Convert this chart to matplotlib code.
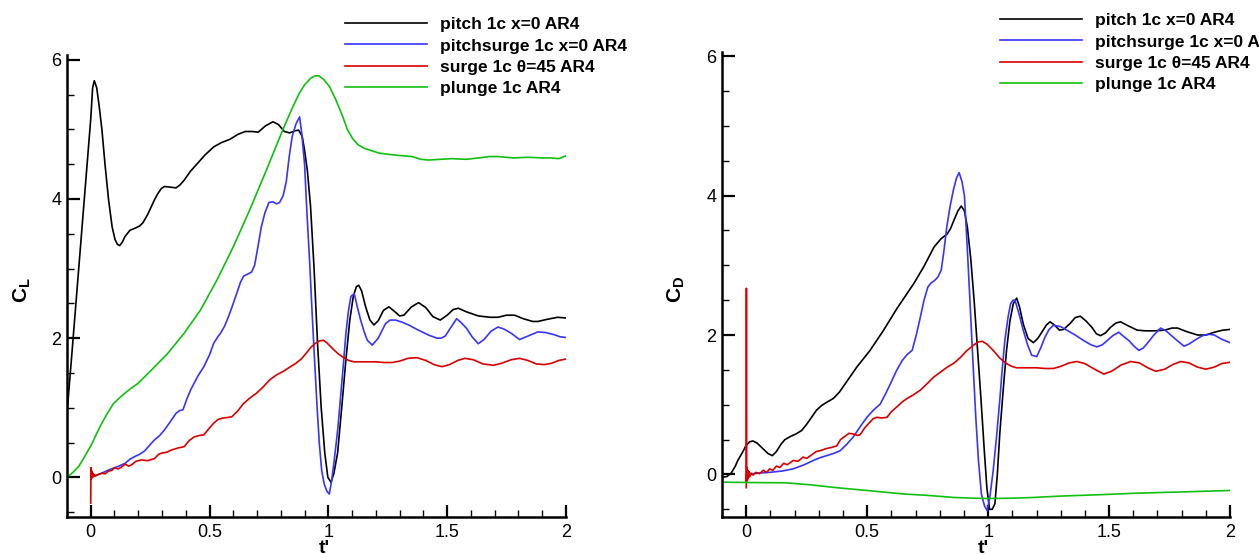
import matplotlib
matplotlib.use('Agg')
import matplotlib.pyplot as plt
from matplotlib.ticker import MultipleLocator

plt.rcParams['font.family'] = ['Liberation Sans', 'DejaVu Sans']
plt.rcParams['mathtext.fontset'] = 'custom'
plt.rcParams['mathtext.rm'] = 'Liberation Sans'
plt.rcParams['mathtext.bf'] = 'Liberation Sans:bold'

labels = ['pitch 1c x=0 AR4', 'pitchsurge 1c x=0 AR4', 'surge 1c \u03b8=45 AR4', 'plunge 1c AR4']
colors = ['#000000', '#3535ff', '#d80000', '#10c010']

xtick_vals = [0, 0.5, 1, 1.5, 2]
xtick_labels = ['0', '0.5', '1', '1.5', '2']
ytick_vals = [0, 2, 4, 6]

# ---- C_L panel ----
cl_pitch_t = [-0.10, -0.08, -0.06, -0.04, -0.02, 0.0, 0.008, 0.015, 0.025, 0.035, 0.047, 0.06, 0.075, 0.09,
              0.102, 0.112, 0.122, 0.133, 0.144, 0.165, 0.186, 0.205, 0.22, 0.24, 0.255, 0.27, 0.283, 0.297,
              0.31, 0.335, 0.359, 0.375, 0.393, 0.42, 0.449, 0.48, 0.518, 0.55, 0.587, 0.62, 0.65, 0.68, 0.705,
              0.735, 0.767, 0.79, 0.815, 0.837, 0.86, 0.875, 0.89, 0.90, 0.912, 0.925, 0.94, 0.955, 0.97,
              0.985, 0.998, 1.011, 1.023, 1.039, 1.055, 1.074, 1.09, 1.105, 1.118, 1.128, 1.14, 1.157, 1.175,
              1.192, 1.21, 1.232, 1.255, 1.28, 1.30, 1.318, 1.35, 1.38, 1.41, 1.44, 1.471, 1.50, 1.525, 1.547,
              1.58, 1.631, 1.68, 1.714, 1.75, 1.784, 1.82, 1.86, 1.882, 1.92, 1.965, 2.0]
cl_pitch = [0.92, 1.75, 2.6, 3.45, 4.3, 5.15, 5.6, 5.70, 5.6, 5.35, 5.0, 4.5, 3.99, 3.6,
            3.42, 3.35, 3.33, 3.38, 3.46, 3.55, 3.58, 3.61, 3.66, 3.78, 3.89, 4.0, 4.08, 4.15,
            4.18, 4.17, 4.16, 4.2, 4.27, 4.4, 4.51, 4.63, 4.75, 4.81, 4.86, 4.93, 4.97, 4.97, 4.96,
            5.05, 5.11, 5.07, 4.97, 4.95, 4.98, 4.99, 4.9, 4.7, 4.4, 3.9, 3.0, 1.9, 1.0,
            0.35, 0.0, -0.07, 0.05, 0.35, 0.95, 1.69, 2.25, 2.6, 2.74, 2.76, 2.68, 2.45, 2.26,
            2.19, 2.25, 2.4, 2.45, 2.38, 2.32, 2.33, 2.45, 2.51, 2.44, 2.31, 2.26, 2.33, 2.41, 2.43,
            2.38, 2.32, 2.30, 2.30, 2.33, 2.33, 2.28, 2.24, 2.24, 2.27, 2.30, 2.29]

cl_psurge_t = [0.0, 0.04, 0.075, 0.11, 0.144, 0.165, 0.186, 0.205, 0.227, 0.25, 0.269, 0.29, 0.31, 0.335,
               0.359, 0.375, 0.388, 0.405, 0.421, 0.45, 0.476, 0.50, 0.518, 0.535, 0.546, 0.563, 0.58, 0.60,
               0.615, 0.63, 0.643, 0.66, 0.677, 0.69, 0.703, 0.718, 0.733, 0.75, 0.767, 0.782, 0.795, 0.81,
               0.823, 0.835, 0.848, 0.864, 0.879, 0.888, 0.90, 0.91, 0.921, 0.932, 0.942, 0.952, 0.962,
               0.972, 0.983, 0.994, 1.004, 1.014, 1.025, 1.04, 1.053, 1.064, 1.074, 1.085, 1.095, 1.109,
               1.122, 1.136, 1.15, 1.164, 1.185, 1.21, 1.241, 1.26, 1.283, 1.31, 1.338, 1.365, 1.394, 1.425,
               1.457, 1.475, 1.492, 1.515, 1.54, 1.56, 1.582, 1.605, 1.631, 1.655, 1.685, 1.714, 1.74, 1.77,
               1.805, 1.84, 1.882, 1.915, 1.951, 1.975, 2.0]
cl_psurge = [0.0, 0.05, 0.105, 0.15, 0.20, 0.26, 0.30, 0.33, 0.38, 0.47, 0.54, 0.6, 0.68, 0.8,
             0.92, 0.96, 0.97, 1.13, 1.26, 1.45, 1.59, 1.76, 1.93, 2.02, 2.07, 2.17, 2.31, 2.5,
             2.65, 2.8, 2.89, 2.92, 2.95, 3.05, 3.3, 3.6, 3.80, 3.95, 3.96, 3.93, 3.95, 4.05,
             4.25, 4.6, 4.9, 5.08, 5.18, 4.95, 4.5, 3.8, 3.12, 2.35, 1.69, 1.05, 0.49,
             0.1, -0.1, -0.2, -0.24, -0.05, 0.25, 0.7, 1.21, 1.65, 2.07, 2.4, 2.60, 2.64,
             2.45, 2.26, 2.1, 1.97, 1.90, 2.0, 2.21, 2.26, 2.26, 2.23, 2.19, 2.14, 2.09, 2.04,
             2.00, 2.0, 2.03, 2.15, 2.28, 2.22, 2.14, 2.02, 1.92, 1.98, 2.1, 2.16, 2.13, 2.07,
             1.98, 2.03, 2.09, 2.08, 2.05, 2.02, 2.01]

cl_surge_t = [0.0, 0.001, 0.003, 0.005, 0.007, 0.009, 0.012, 0.016, 0.02, 0.03, 0.047, 0.06, 0.075, 0.089,
              0.10, 0.115, 0.13, 0.145, 0.16, 0.172, 0.19, 0.213, 0.24, 0.269, 0.285, 0.30, 0.32, 0.338,
              0.365, 0.393, 0.415, 0.435, 0.455, 0.476, 0.50, 0.518, 0.535, 0.553, 0.575, 0.594, 0.62,
              0.643, 0.67, 0.698, 0.726, 0.753, 0.781, 0.809, 0.836, 0.864, 0.886, 0.906, 0.927, 0.947,
              0.962, 0.979, 0.995, 1.018, 1.04, 1.06, 1.085, 1.109, 1.15, 1.199, 1.235, 1.269, 1.30, 1.335,
              1.373, 1.41, 1.445, 1.478, 1.51, 1.545, 1.575, 1.61, 1.65, 1.694, 1.73, 1.77, 1.805, 1.84,
              1.875, 1.909, 1.94, 1.97, 2.0]
cl_surge = [-0.37, 0.14, -0.02, 0.09, 0.0, 0.06, 0.01, 0.04, 0.02, 0.04, 0.06, 0.05, 0.09, 0.1,
            0.14, 0.12, 0.15, 0.19, 0.16, 0.18, 0.23, 0.25, 0.24, 0.27, 0.33, 0.35, 0.36, 0.39,
            0.42, 0.44, 0.53, 0.58, 0.6, 0.61, 0.71, 0.78, 0.83, 0.85, 0.86, 0.87, 0.96,
            1.06, 1.14, 1.21, 1.3, 1.40, 1.47, 1.52, 1.58, 1.64, 1.7, 1.78, 1.87, 1.93,
            1.96, 1.97, 1.93, 1.85, 1.78, 1.73, 1.68, 1.66, 1.66, 1.66, 1.65, 1.65, 1.67, 1.71,
            1.72, 1.68, 1.62, 1.59, 1.62, 1.68, 1.71, 1.69, 1.63, 1.61, 1.64, 1.69, 1.71, 1.68,
            1.63, 1.62, 1.64, 1.68, 1.70]

cl_plunge_t = [-0.10, -0.075, -0.05, -0.025, 0.006, 0.025, 0.047, 0.07, 0.096, 0.12, 0.144, 0.17, 0.199,
               0.255, 0.324, 0.393, 0.463, 0.532, 0.601, 0.67, 0.74, 0.809, 0.85, 0.878, 0.90, 0.927,
               0.945, 0.96, 0.98, 1.004, 1.03, 1.06, 1.08, 1.102, 1.125, 1.15, 1.213, 1.283, 1.352, 1.39,
               1.422, 1.47, 1.519, 1.58, 1.631, 1.68, 1.714, 1.78, 1.84, 1.90, 1.937, 1.97, 2.0]
cl_plunge = [0.0, 0.07, 0.16, 0.3, 0.49, 0.63, 0.78, 0.92, 1.06, 1.14, 1.21, 1.28, 1.35,
             1.54, 1.78, 2.07, 2.41, 2.84, 3.32, 3.85, 4.42, 5.0, 5.32, 5.52, 5.64, 5.74,
             5.77, 5.77, 5.72, 5.62, 5.44, 5.19, 5.0, 4.87, 4.78, 4.73, 4.66, 4.63, 4.61, 4.57,
             4.56, 4.57, 4.58, 4.57, 4.59, 4.61, 4.61, 4.59, 4.60, 4.59, 4.59, 4.58, 4.62]

# ---- C_D panel ----
cd_pitch_t = [-0.104, -0.08, -0.062, -0.045, -0.035, -0.015, 0.0, 0.015, 0.028, 0.045, 0.069, 0.09, 0.108,
              0.125, 0.145, 0.16, 0.18, 0.205, 0.229, 0.25, 0.27, 0.29, 0.312, 0.335, 0.36, 0.385, 0.409,
              0.457, 0.512, 0.568, 0.623, 0.693, 0.734, 0.776, 0.805, 0.831, 0.845, 0.859, 0.875, 0.889,
              0.902, 0.914, 0.928, 0.942, 0.956, 0.97, 0.984, 0.995, 1.006, 1.017, 1.028, 1.038, 1.048,
              1.062, 1.076, 1.09, 1.104, 1.118, 1.13, 1.145, 1.165, 1.187, 1.205, 1.222, 1.24, 1.256,
              1.275, 1.295, 1.312, 1.34, 1.36, 1.381, 1.405, 1.429, 1.447, 1.464, 1.485, 1.506, 1.527,
              1.547, 1.58, 1.616, 1.65, 1.686, 1.73, 1.76, 1.783, 1.82, 1.866, 1.90, 1.935, 1.97, 2.0]
cd_pitch = [-0.04, -0.03, 0.02, 0.12, 0.2, 0.32, 0.42, 0.47, 0.48, 0.45, 0.37, 0.3, 0.27,
            0.33, 0.44, 0.5, 0.54, 0.58, 0.63, 0.72, 0.82, 0.92, 0.99, 1.04, 1.09, 1.18, 1.30,
            1.54, 1.78, 2.07, 2.38, 2.74, 2.98, 3.26, 3.38, 3.45, 3.53, 3.65, 3.78, 3.85,
            3.78, 3.55, 3.1, 2.5, 1.8, 1.1, 0.35, -0.2, -0.5, -0.5, -0.42, 0.0, 0.58,
            1.2, 1.78, 2.2, 2.45, 2.53, 2.4, 2.16, 1.95, 1.89, 1.95, 2.04, 2.14, 2.19,
            2.14, 2.07, 2.08, 2.17, 2.25, 2.27, 2.2, 2.11, 2.02, 1.99, 2.03, 2.11, 2.17,
            2.19, 2.13, 2.07, 2.06, 2.06, 2.07, 2.1, 2.10, 2.05, 2.00, 2.0, 2.04, 2.07, 2.08]

cd_psurge_t = [0.0, 0.05, 0.097, 0.15, 0.194, 0.24, 0.277, 0.305, 0.332, 0.36, 0.388, 0.415, 0.443, 0.47,
               0.499, 0.525, 0.554, 0.575, 0.596, 0.62, 0.644, 0.665, 0.686, 0.703, 0.72, 0.735, 0.751,
               0.765, 0.778, 0.792, 0.806, 0.817, 0.829, 0.843, 0.857, 0.869, 0.88, 0.892, 0.902, 0.913,
               0.924, 0.936, 0.949, 0.96, 0.972, 0.985, 0.996, 1.008, 1.021, 1.035, 1.048, 1.058, 1.069,
               1.082, 1.093, 1.103, 1.111, 1.128, 1.145, 1.163, 1.18, 1.201, 1.218, 1.235, 1.252, 1.27,
               1.30, 1.325, 1.36, 1.395, 1.425, 1.45, 1.472, 1.492, 1.515, 1.54, 1.56, 1.582, 1.603, 1.623,
               1.64, 1.658, 1.685, 1.713, 1.735, 1.755, 1.785, 1.81, 1.83, 1.852, 1.875, 1.893, 1.915,
               1.935, 1.965, 2.0]
cd_psurge = [0.0, 0.02, 0.03, 0.05, 0.08, 0.14, 0.20, 0.24, 0.27, 0.3, 0.34, 0.43, 0.54, 0.68,
             0.82, 0.92, 1.01, 1.15, 1.30, 1.48, 1.63, 1.72, 1.78, 2.0, 2.26, 2.5, 2.69,
             2.75, 2.78, 2.83, 2.93, 3.2, 3.55, 3.85, 4.09, 4.25, 4.33, 4.2, 4.0, 3.3,
             2.55, 1.7, 0.82, 0.2, -0.28, -0.45, -0.52, -0.3, 0.06, 0.55, 1.06, 1.5, 1.92,
             2.25, 2.45, 2.5, 2.5, 2.3, 2.07, 1.86, 1.71, 1.69, 1.82, 1.97, 2.08, 2.14,
             2.12, 2.07, 2.0, 1.92, 1.86, 1.83, 1.86, 1.92, 1.99, 2.04, 1.98, 1.92, 1.84, 1.78,
             1.81, 1.88, 2.0, 2.10, 2.06, 2.00, 1.91, 1.84, 1.87, 1.92, 1.97, 2.00, 2.01,
             2.00, 1.94, 1.89]

cd_surge_t = [0.0, 0.0008, 0.0016, 0.003, 0.005, 0.007, 0.009, 0.012, 0.015, 0.02, 0.028, 0.04, 0.055,
              0.07, 0.085, 0.097, 0.11, 0.125, 0.139, 0.155, 0.17, 0.194, 0.215, 0.235, 0.249, 0.27, 0.29,
              0.305, 0.33, 0.355, 0.374, 0.39, 0.409, 0.425, 0.443, 0.46, 0.471, 0.49, 0.506, 0.525, 0.54,
              0.56, 0.582, 0.60, 0.623, 0.645, 0.665, 0.69, 0.72, 0.75, 0.776, 0.80, 0.831, 0.86, 0.886,
              0.91, 0.938, 0.958, 0.976, 0.995, 1.021, 1.048, 1.076, 1.098, 1.118, 1.16, 1.201, 1.235,
              1.27, 1.30, 1.335, 1.367, 1.40, 1.44, 1.478, 1.51, 1.55, 1.589, 1.625, 1.66, 1.693, 1.73,
              1.765, 1.796, 1.83, 1.865, 1.90, 1.935, 1.965, 2.0]
cd_surge = [-0.19, 2.67, -0.1, 0.1, -0.08, 0.06, -0.05, 0.04, -0.03, 0.02, -0.01, 0.03, 0.01,
            0.06, 0.03, 0.08, 0.06, 0.12, 0.1, 0.16, 0.14, 0.2, 0.19, 0.25, 0.23, 0.28, 0.33,
            0.34, 0.37, 0.39, 0.41, 0.5, 0.55, 0.59, 0.58, 0.56, 0.57, 0.67, 0.73, 0.8, 0.82,
            0.81, 0.82, 0.9, 0.97, 1.04, 1.09, 1.14, 1.21, 1.31, 1.40, 1.46, 1.54, 1.6, 1.68,
            1.77, 1.85, 1.9, 1.91, 1.87, 1.78, 1.67, 1.59, 1.55, 1.53, 1.53, 1.53, 1.52,
            1.52, 1.55, 1.6, 1.62, 1.59, 1.51, 1.44, 1.48, 1.57, 1.62, 1.6, 1.53, 1.48, 1.51,
            1.58, 1.62, 1.6, 1.54, 1.51, 1.54, 1.59, 1.61]

cd_plunge_t = [-0.104, 0.0, 0.166, 0.27, 0.374, 0.5, 0.651, 0.75, 0.859, 0.94, 1.0, 1.1, 1.187, 1.3,
               1.464, 1.602, 1.7, 1.81, 1.9, 2.0]
cd_plunge = [-0.11, -0.115, -0.12, -0.15, -0.19, -0.23, -0.28, -0.3, -0.33, -0.34, -0.345, -0.34, -0.33,
             -0.31, -0.29, -0.27, -0.26, -0.25, -0.24, -0.23]


def style_axes(ax, ylim, ylab):
    ax.set_xlim(-0.1, 2.0)
    ax.set_ylim(*ylim)
    for side in ['top', 'right']:
        ax.spines[side].set_visible(False)
    for side in ['left', 'bottom']:
        ax.spines[side].set_linewidth(1.8)
    ax.set_xticks(xtick_vals, xtick_labels)
    ax.set_yticks(ytick_vals)
    ax.xaxis.set_minor_locator(MultipleLocator(0.1))
    ax.yaxis.set_minor_locator(MultipleLocator(0.5))
    ax.tick_params(which='major', direction='in', length=9, width=1.6, labelsize=13, pad=5)
    ax.tick_params(which='minor', direction='in', length=5, width=1.0)
    ax.tick_params(axis='y', which='major', pad=4)
    ax.set_xlabel("t'", fontsize=14, fontweight='bold')
    ax.set_ylabel(ylab, fontsize=15)
    ax.xaxis.set_label_coords(0.515, -0.049)
    ax.yaxis.set_label_coords(-0.068, 0.49)


fig = plt.figure(figsize=(12.59, 5.54), dpi=100)
ax1 = fig.add_axes([0.0532, 0.0668, 0.3963, 0.834])
ax2 = fig.add_axes([0.5735, 0.0668, 0.4035, 0.8394])

lw = 1.2
h1 = []
for t, v, c in [(cl_pitch_t, cl_pitch, colors[0]), (cl_psurge_t, cl_psurge, colors[1]),
                (cl_surge_t, cl_surge, colors[2]), (cl_plunge_t, cl_plunge, colors[3])]:
    h1.append(ax1.plot(t, v, color=c, lw=lw)[0])
h2 = []
for t, v, c in [(cd_pitch_t, cd_pitch, colors[0]), (cd_psurge_t, cd_psurge, colors[1]),
                (cd_surge_t, cd_surge, colors[2]), (cd_plunge_t, cd_plunge, colors[3])]:
    h2.append(ax2.plot(t, v, color=c, lw=lw)[0])

style_axes(ax1, (-0.57, 6.07), r'$\mathbf{C}_\mathbf{L}$')
style_axes(ax2, (-0.61, 6.06), r'$\mathbf{C}_\mathbf{D}$')

leg_kw = dict(frameon=False, loc='upper left', bbox_transform=fig.transFigure, borderpad=0,
              borderaxespad=0, handlelength=4.7, handletextpad=0.75, labelspacing=0.36,
              prop={'size': 12.5, 'weight': 'bold'})
ax1.legend(h1, labels, bbox_to_anchor=(345 / 1259, 1 - 17 / 554), **leg_kw)
ax2.legend(h2, labels, bbox_to_anchor=(1000 / 1259, 1 - 13 / 554), **leg_kw)

fig.savefig('out.png', dpi=100)
